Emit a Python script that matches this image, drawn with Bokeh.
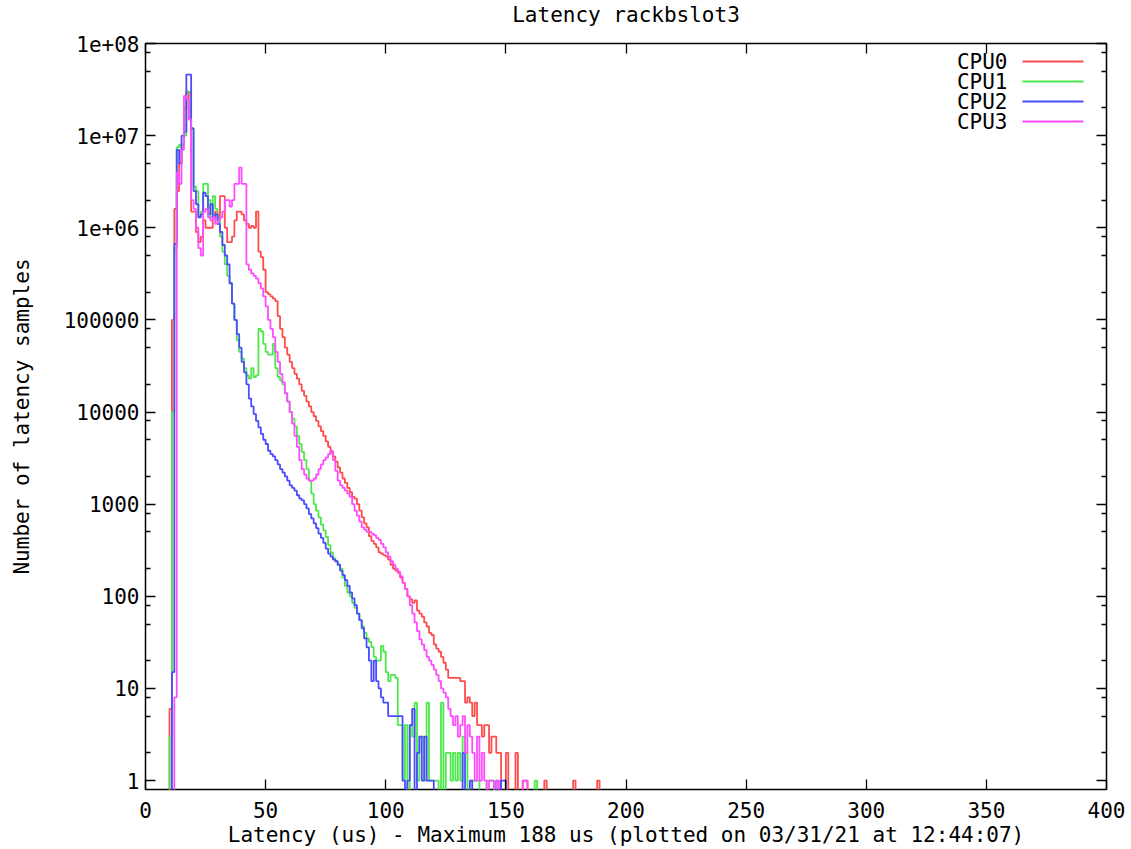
from bokeh.plotting import figure
from bokeh.models import (FixedTicker, LinearAxis, LogAxis, CustomJSTickFormatter,
                          Range1d, Label, Arrow)
from bokeh.embed import file_html
from bokeh.resources import INLINE

FONT = "DejaVu Sans Mono"
FS = "21px"

# latency bins (us)
latency_us = list(range(0, 191))

cpu0 = [0,
    0, 0, 0, 0, 0, 0, 0, 0, 0, 6,
    1e5, 1.6e6, 2.5e6, 5e6, 8e6, 2e7, 3e7, 1.5e7, 1.5e6, 1.5e6,
    9e5, 7e5, 8e5, 1.2e6, 1e6, 1e6, 1e6, 1.3e6, 1.5e6, 1.2e6,
    2.2e6, 2.2e6, 1e6, 7e5, 7e5, 8e5, 1.2e6, 1.5e6, 1.5e6, 1.4e6,
    1.2e6, 1.1e6, 1e6, 1.05e6, 1e6, 1.5e6, 5.5e5, 4.8e5, 3.5e5, 2e5,
    1.9e5, 1.8e5, 1.7e5, 1.6e5, 1.1e5, 8e4, 6.5e4, 5e4, 4.2e4, 3.5e4,
    3e4, 2.6e4, 2.3e4, 2e4, 1.7e4, 1.5e4, 1.3e4, 1.15e4, 1e4, 9000,
    8000, 7000, 6200, 5500, 4800, 4200, 3600, 3300, 2900, 2500,
    2200, 1900, 1700, 1500, 1350, 1200, 1150, 1000, 850, 720,
    620, 560, 450, 400, 370, 340, 300, 290, 280, 270,
    250, 220, 200, 190, 180, 160, 140, 120, 100, 93,
    85, 90, 70, 65, 60, 52, 47, 40, 38, 30,
    27, 25, 22, 19, 16, 13, 13, 13, 13, 13,
    12, 12, 7, 8, 7, 5, 7, 4, 4, 3,
    4, 4, 2, 3, 3, 2, 2, 0, 0, 2,
    0, 0, 0, 2, 0, 0, 1, 1, 0, 0,
    0, 0, 0, 0, 0, 1, 0, 0, 0, 0,
    0, 0, 0, 0, 0, 0, 0, 1, 0, 0,
    0, 0, 0, 0, 0, 0, 0, 1, 0, 0]

cpu1 = [0,
    0, 0, 0, 0, 0, 0, 0, 0, 0, 3,
    1e4, 6e5, 7.5e6, 8e6, 8e6, 1e7, 3e7, 3e7, 1.2e7, 2.8e6,
    2.5e6, 1.3e6, 1.5e6, 3e6, 3e6, 2e6, 1.3e6, 2.2e6, 1.6e6, 1.2e6,
    8e5, 5.5e5, 4e5, 3e5, 2.5e5, 1.5e5, 1e5, 6e4, 4.5e4, 3.8e4,
    3e4, 2.5e4, 2.3e4, 3e4, 2.4e4, 2.5e4, 8e4, 7.5e4, 5.5e4, 4.5e4,
    4.2e4, 4.2e4, 5.5e4, 3e4, 2.4e4, 2.2e4, 2e4, 1.6e4, 1.3e4, 1e4,
    8500, 7000, 5500, 4500, 3700, 3000, 2400, 1800, 1300, 1000,
    850, 720, 600, 520, 440, 360, 300, 260, 240, 220,
    200, 160, 130, 110, 100, 85, 75, 65, 55, 47,
    40, 35, 32, 28, 22, 20, 20, 29, 25, 15,
    12, 14, 14, 13, 4, 4, 1, 4, 0, 4,
    3, 7, 1, 3, 3, 1, 7, 1, 1, 1,
    1, 0, 7, 0, 2, 2, 1, 2, 1, 2,
    1, 3, 2, 0, 1, 1, 1, 1, 0, 0,
    0, 1, 1, 1, 0, 0, 0, 0, 0, 0,
    0, 0, 0, 0, 0, 0, 0, 0, 0, 0,
    0, 1, 0, 0, 0, 0, 0, 0, 0, 0,
    0, 0, 0, 0, 0, 0, 0, 0, 0, 0,
    0, 0, 0, 0, 0, 0, 0, 0, 0, 0]

cpu2 = [0,
    0, 0, 0, 0, 0, 0, 0, 0, 0, 0,
    15, 6.7e5, 7e6, 5e6, 1e7, 1.1e7, 4.6e7, 4.6e7, 1.2e7, 2.5e6,
    1.8e6, 1.3e6, 1.4e6, 2.4e6, 2.2e6, 1.4e6, 1.8e6, 1.3e6, 1.4e6, 1.1e6,
    9e5, 6.5e5, 5e5, 4e5, 2.5e5, 1.5e5, 1e5, 7e4, 5e4, 3.5e4,
    2.7e4, 2e4, 1.4e4, 1.15e4, 9500, 8000, 6800, 5800, 5000, 4500,
    3800, 3500, 3300, 3000, 2700, 2400, 2200, 2000, 1800, 1600,
    1500, 1400, 1250, 1150, 1100, 1000, 900, 780, 700, 620,
    550, 480, 430, 380, 330, 290, 270, 250, 240, 220,
    190, 170, 150, 130, 110, 95, 80, 65, 55, 45,
    35, 28, 20, 12, 20, 12, 10, 8, 7, 7,
    5, 5, 5, 5, 5, 5, 1, 0, 1, 4,
    6, 0, 2, 3, 1, 3, 1, 1, 1, 0,
    0, 0, 0, 0, 0, 0, 0, 0, 0, 0,
    0, 2, 0, 0, 1, 0, 0, 0, 0, 0,
    0, 0, 0, 0, 0, 1, 0, 1, 1, 0,
    0, 0, 0, 0, 0, 0, 0, 0, 0, 0,
    0, 0, 0, 0, 0, 0, 0, 0, 0, 0,
    0, 0, 0, 0, 0, 0, 0, 0, 0, 0,
    0, 0, 0, 0, 0, 0, 0, 0, 0, 0]

cpu3 = [0,
    0, 0, 0, 0, 0, 0, 0, 0, 0, 0,
    0, 8, 4e6, 3e6, 7e6, 2.7e7, 2.5e7, 1.5e7, 2e6, 1.6e6,
    1e6, 6e5, 5e5, 1.5e6, 1.6e6, 1.3e6, 1.2e6, 1.3e6, 1.1e6, 1.2e6,
    1.3e6, 1.5e6, 2e6, 2e6, 1.7e6, 2e6, 3e6, 3e6, 4.5e6, 3e6,
    3e6, 4e5, 3.5e5, 3.2e5, 3e5, 2.8e5, 2.5e5, 2.2e5, 1.8e5, 1.4e5,
    1e5, 8e4, 6.5e4, 4.5e4, 3.5e4, 2.6e4, 2.1e4, 1.6e4, 1.3e4, 1e4,
    7500, 5500, 4200, 3000, 2400, 2100, 1900, 1800, 1800, 1900,
    2100, 2400, 2700, 3000, 3200, 3500, 3800, 3000, 2300, 1800,
    1600, 1500, 1400, 1300, 1200, 1000, 850, 750, 650, 560,
    530, 500, 500, 480, 460, 430, 410, 370, 340, 300,
    270, 240, 220, 200, 185, 165, 140, 120, 100, 80,
    65, 52, 42, 34, 30, 26, 22, 20, 18, 16,
    14, 12, 10, 9, 8, 6, 5, 4, 5, 3,
    4, 5, 2, 4, 3, 2, 1, 3, 1, 2,
    1, 0, 1, 1, 0, 1, 0, 0, 0, 0,
    0, 0, 0, 0, 0, 0, 1, 1, 0, 0,
    0, 0, 0, 0, 0, 0, 0, 0, 0, 0,
    0, 0, 0, 0, 0, 0, 0, 0, 0, 0,
    0, 0, 0, 0, 0, 0, 0, 0, 0, 0]

series_names = ["CPU0", "CPU1", "CPU2", "CPU3"]
series_colors = ["#ff4c4c", "#4ce84c", "#4c4cff", "#ff4cff"]

x_ticks = [0, 50, 100, 150, 200, 250, 300, 350, 400]
y_ticks = [1, 10, 100, 1000, 10000, 100000, 1000000, 10000000, 100000000]
y_minor = [m * 10 ** k for k in range(0, 8) for m in (2, 5, 8)]

title_text = "Latency rackbslot3"
x_label = "Latency (us) - Maximum 188 us (plotted on 03/31/21 at 12:44:07)"
y_label = "Number of latency samples"

p = figure(width=1125, height=849, y_axis_type="log",
           x_range=Range1d(0, 400), y_range=Range1d(0.8, 1e8),
           output_backend="svg", toolbar_location=None,
           min_border_left=145, min_border_right=19,
           min_border_top=42, min_border_bottom=60)

p.title.text = title_text
p.title.align = "center"
p.title.text_font = FONT
p.title.text_font_size = FS
p.title.text_font_style = "normal"
p.title.text_color = "black"
p.title.standoff = 0

p.xgrid.visible = False
p.ygrid.visible = False
p.outline_line_color = "black"
p.outline_line_width = 1.5
p.outline_line_alpha = 1.0

renderers = []
for name, counts, color in zip(series_names, [cpu0, cpu1, cpu2, cpu3], series_colors):
    yv = [c if c > 0 else 0.3 for c in counts]
    r = p.step(latency_us, yv, mode="after", line_color=color, line_width=1.8)
    renderers.append(r)

def style_axis(ax):
    ax.axis_line_color = None
    ax.major_tick_in = 10
    ax.major_tick_out = 0
    ax.minor_tick_in = 5
    ax.minor_tick_out = 0
    ax.major_tick_line_color = "black"
    ax.minor_tick_line_color = "black"
    ax.major_tick_line_width = 1.3
    ax.minor_tick_line_width = 1.3
    ax.major_label_text_font = FONT
    ax.major_label_text_font_size = FS
    ax.major_label_text_color = "black"
    ax.axis_label_text_font = FONT
    ax.axis_label_text_font_size = FS
    ax.axis_label_text_font_style = "normal"
    ax.axis_label_text_color = "black"

xt = FixedTicker(ticks=x_ticks, minor_ticks=[])
yt = FixedTicker(ticks=y_ticks, minor_ticks=y_minor)
yfmt = CustomJSTickFormatter(code="""
const e = Math.round(Math.log10(tick));
if (e >= 6) { return "1e+" + (e < 10 ? "0" : "") + e; }
return String(Math.round(tick));
""")
blank = CustomJSTickFormatter(code="return '';")

xa = p.xaxis[0]
style_axis(xa)
xa.ticker = xt
xa.axis_label = x_label
xa.major_label_standoff = 12
xa.axis_label_standoff = 2

ya = p.yaxis[0]
style_axis(ya)
ya.ticker = yt
ya.formatter = yfmt
ya.axis_label = y_label
ya.major_label_standoff = 6
ya.axis_label_standoff = 27

# mirrored ticks on top; its (blank) label only reserves room so the title sits high
top = LinearAxis(ticker=xt, formatter=blank)
style_axis(top)
top.major_label_text_font_size = "1px"
top.major_label_standoff = 0
top.axis_label = " "
top.axis_label_text_font_size = "1px"
top.axis_label_standoff = 13
p.add_layout(top, "above")

right = LogAxis(ticker=yt, formatter=blank)
style_axis(right)
right.major_label_text_font_size = "1px"
right.major_label_standoff = 0
p.add_layout(right, "right")

# key (text on the left, line sample on the right), in screen units of the frame
key_rows = [728, 708, 688, 668]
for name, color, ky in zip(series_names, series_colors, key_rows):
    p.add_layout(Label(x=862, y=ky, x_units="screen", y_units="screen", text=name,
                       text_align="right", text_baseline="middle", text_font=FONT,
                       text_font_size=FS, text_color="black"))
    p.add_layout(Arrow(end=None, x_start=877, y_start=ky, x_end=938, y_end=ky,
                       start_units="screen", end_units="screen",
                       line_color=color, line_width=1.8))

open("out.html", "w").write(file_html(p, INLINE))
